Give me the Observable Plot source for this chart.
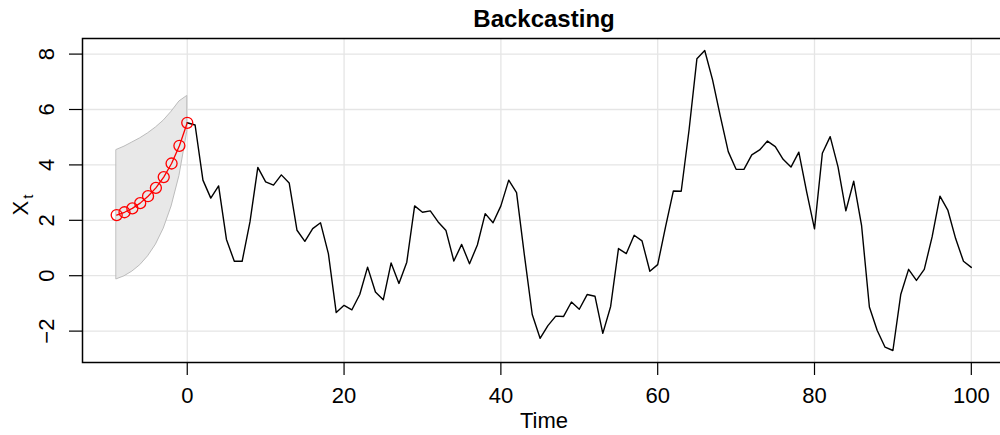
<!DOCTYPE html>
<html><head><meta charset="utf-8">
<script src="https://cdn.jsdelivr.net/npm/d3@7"></script>
<script src="https://cdn.jsdelivr.net/npm/@observablehq/plot@0.6"></script>
<style>
html,body{margin:0;padding:0;overflow:hidden;background:#fff;}
#wrap{position:relative;width:1000px;height:435px;overflow:hidden;}
#wrap svg{max-width:none !important;}
</style></head><body><div id="wrap"></div>
<script>
// Observed series X_t, t = 0..100
const series = [5.52,5.44,3.45,2.80,3.24,1.31,0.52,0.52,1.94,3.91,
  3.39,3.27,3.64,3.35,1.64,1.24,1.70,1.91,0.80,-1.33,
  -1.07,-1.23,-0.68,0.31,-0.59,-0.87,0.46,-0.28,0.49,2.52,
  2.29,2.34,1.94,1.63,0.53,1.13,0.43,1.11,2.24,1.91,
  2.52,3.45,3.00,0.74,-1.40,-2.26,-1.80,-1.46,-1.47,-0.95,
  -1.21,-0.68,-0.74,-2.08,-1.11,0.98,0.80,1.46,1.26,0.16,
  0.40,1.76,3.06,3.05,5.26,7.83,8.13,7.07,5.74,4.48,
  3.84,3.84,4.36,4.54,4.86,4.66,4.20,3.92,4.46,3.03,
  1.69,4.42,5.02,3.93,2.34,3.41,1.82,-1.13,-1.98,-2.58,
  -2.70,-0.68,0.23,-0.17,0.23,1.40,2.87,2.37,1.34,0.52,
  0.30];
// Backcast times and values
const backTime = [-9,-8,-7,-6,-5,-4,-3,-2,-1,0];
const backcast = [2.19,2.29,2.43,2.62,2.87,3.17,3.56,4.05,4.69,5.52];
const bandUpper = [4.54,4.66,4.81,4.96,5.14,5.35,5.60,5.92,6.29,6.49];
const bandLower = [-0.13,-0.02,0.15,0.38,0.70,1.12,1.70,2.50,3.60,5.20];
const xTicks = [0,20,40,60,80,100];
const yTicks = [-2,0,2,4,6,8];
const titleText = "Backcasting";
const xLabel = "Time";
const yLabelMain = "X";
const yLabelSub = "t";

const seriesData = series.map((v, i) => ({t: i, v}));
const backData = backTime.map((t, i) => ({t, v: backcast[i], lo: bandLower[i], hi: bandUpper[i]}));

const font = "'Liberation Sans', Arial, Helvetica, sans-serif";
const grid = "#e5e5e5";

const chart = Plot.plot({
  width: 1005, height: 435,
  marginLeft: 82, marginRight: 0, marginTop: 38, marginBottom: 73,
  x: {domain: [-13.36, 104.36]},
  y: {domain: [-3.133, 8.563]},
  style: {fontFamily: font, background: "white", color: "black", maxWidth: "none"},
  marks: [
    Plot.gridX(xTicks, {stroke: grid, strokeOpacity: 1, strokeWidth: 1.3}),
    Plot.gridY(yTicks, {stroke: grid, strokeOpacity: 1, strokeWidth: 1.3}),
    Plot.areaY(backData, {x: "t", y1: "lo", y2: "hi", fill: "#e8e8e8", stroke: "#bcbcbc", strokeWidth: 1}),
    Plot.lineY(seriesData, {x: "t", y: "v", stroke: "black", strokeWidth: 1.4}),
    Plot.lineY(backData, {x: "t", y: "v", stroke: "red", strokeWidth: 1.3}),
    Plot.dot(backData, {x: "t", y: "v", r: 5.5, stroke: "red", fill: "none", strokeWidth: 1.3}),
    Plot.frame({stroke: "black", strokeWidth: 1.5}),
    Plot.axisX(xTicks, {tickSize: 13, tickPadding: 12, fontSize: 22, label: null, strokeWidth: 1.2}),
    Plot.axisY(yTicks, {tickSize: 13, tickPadding: 16, tickRotate: -90, fontSize: 22, label: null, strokeWidth: 1.2}),
    Plot.text([titleText], {frameAnchor: "top", dy: -28.5, lineAnchor: "top", fontSize: 24, fontWeight: "bold"}),
    Plot.text([xLabel], {frameAnchor: "bottom", dy: 49.5, lineAnchor: "top", fontSize: 22})
  ]
});
document.getElementById("wrap").appendChild(chart);

// Y axis label with subscript
const svg = d3.select(chart);
const yl = svg.append("text")
  .attr("transform", "translate(28,205) rotate(-90)")
  .attr("text-anchor", "middle")
  .attr("font-family", font)
  .attr("font-size", 22)
  .attr("fill", "black");
yl.append("tspan").text(yLabelMain);
yl.append("tspan").attr("font-size", 15).attr("dy", 5).attr("dx", 2).text(yLabelSub);
</script></body></html>
